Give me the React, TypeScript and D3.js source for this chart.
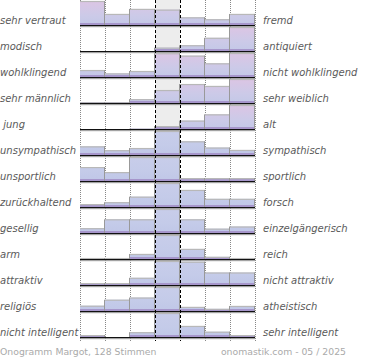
import React from 'react';
import * as d3 from 'd3';

const leftLabels = [
  'sehr vertraut', 'modisch', 'wohlklingend', 'sehr männlich', ' jung',
  'unsympathisch', 'unsportlich', 'zurückhaltend', 'gesellig', 'arm',
  'attraktiv', 'religiös', 'nicht intelligent',
];
const rightLabels = [
  'fremd', 'antiquiert', 'nicht wohlklingend', 'sehr weiblich', 'alt',
  'sympathisch', 'sportlich', 'forsch', 'einzelgängerisch', 'reich',
  'nicht attraktiv', 'atheistisch', 'sehr intelligent',
];
const values: number[][] = [
  [100, 46, 67, 64, 32, 24, 46],
  [0, 0, 0, 14, 24, 55, 100],
  [29, 15, 25, 99, 89, 57, 100],
  [3, 3, 16, 54, 79, 71, 100],
  [0, 0, 1, 12, 35, 61, 100],
  [36, 20, 29, 100, 57, 31, 21],
  [58, 37, 100, 100, 12, 12, 12],
  [12, 20, 43, 100, 71, 34, 34],
  [20, 57, 57, 100, 57, 18, 27],
  [4, 4, 21, 100, 42, 9, 4],
  [8, 8, 30, 100, 97, 52, 52],
  [22, 47, 56, 100, 17, 9, 21],
  [8, 0, 20, 100, 46, 22, 8],
];
const footerLeft = 'Onogramm Margot, 128 Stimmen';
const footerRight = 'onomastik.com - 05 / 2025';

const W = 370;
const H = 360;
const LEFT = 80;
const RIGHT = 255;
const ROW_H = 24;
const pinkRowCount = 5;

export default function App() {
  const cols = d3.range(7);
  const x = d3.scaleBand<number>().domain(cols).range([LEFT, RIGHT]).padding(0);
  const base = d3.scaleLinear().domain([0, values.length - 1]).range([25, 337]);
  const midX0 = x(3)!;
  const midX1 = midX0 + x.bandwidth();
  const gridXs = [0, 1, 2, 5, 6].map((c) => x(c)!).concat([RIGHT]);
  const lab = { fontFamily: 'DejaVu Sans', fontStyle: 'italic', fontSize: 10, fill: '#5a5a5a' } as const;
  const foot = { fontFamily: 'DejaVu Sans', fontSize: 9.3, fill: '#aaa' } as const;

  return (
    <svg width={W} height={H} style={{ position: 'absolute', left: 0, top: 0 }}>
      <defs>
        {values.map((row, i) => {
          const b = base(i);
          const pink = i < pinkRowCount;
          return (
            <linearGradient key={i} id={`g${i}`} gradientUnits="userSpaceOnUse" x1={0} x2={0} y1={b - ROW_H} y2={b}>
              <stop offset="0" stopColor={pink ? '#dcc5e4' : '#c8cdea'} />
              <stop offset="0.6" stopColor={pink ? '#cccae8' : '#c4cbe9'} />
              <stop offset="1" stopColor={pink ? '#c3c8e7' : '#c0c7e7'} />
            </linearGradient>
          );
        })}
      </defs>
      <rect x={midX0} y={0} width={midX1 - midX0} height={338} fill="#ededed" />
      {gridXs.map((gx, k) => (
        <line key={k} x1={gx + 0.5} x2={gx + 0.5} y1={0} y2={341} stroke="#888" strokeWidth={1} strokeDasharray="1,1" />
      ))}
      {values.map((row, i) => {
        const b = base(i);
        const h = d3.scaleLinear().domain([0, d3.max(row)!]).range([0, ROW_H]);
        const tops = row.map((v) => b - h(v));
        return (
          <g key={i}>
            {row.map((v, j) => (
              h(v) > 0 ? (
                <g key={j}>
                  <rect x={x(j)!} y={tops[j]} width={x.bandwidth()} height={h(v)} fill={`url(#g${i})`} />
                  <rect x={x(j)!} y={b - Math.min(2, h(v))} width={x.bandwidth()} height={Math.min(2, h(v))} fill="#a696cb" />
                  <line x1={x(j)!} x2={x(j)! + x.bandwidth()} y1={tops[j] + 0.5} y2={tops[j] + 0.5} stroke="#b8b8b8" strokeWidth={1.2} />
                </g>
              ) : null
            ))}
            {row.map((v, j) => {
              const next = j < row.length - 1 ? tops[j + 1] : b;
              const top = Math.min(tops[j], next);
              if (top >= b) return null;
              const xx = x(j)! + x.bandwidth() - 0.5;
              return <line key={`e${j}`} x1={xx} x2={xx} y1={top} y2={b} stroke="#999" strokeWidth={1} />;
            })}
            <line x1={LEFT} x2={RIGHT} y1={b + 1.8} y2={b + 1.8} stroke="#c4c4c4" strokeWidth={1} />
            <line x1={LEFT} x2={RIGHT} y1={b + 0.6} y2={b + 0.6} stroke="#111" strokeWidth={1.3} />
            <text x={0} y={b - 1.5} style={{ ...lab, whiteSpace: 'pre' }}>{leftLabels[i]}</text>
            <text x={263} y={b - 1.5} style={lab}>{rightLabels[i]}</text>
          </g>
        );
      })}
      {[midX0, midX1].map((dx, k) => (
        <line key={k} x1={dx + 0.5} x2={dx + 0.5} y1={0} y2={341} stroke="#000" strokeWidth={1} strokeDasharray="3,2" />
      ))}
      <text x={0} y={355} style={foot}>{footerLeft}</text>
      <text x={346} y={355} textAnchor="end" style={foot}>{footerRight}</text>
    </svg>
  );
}
